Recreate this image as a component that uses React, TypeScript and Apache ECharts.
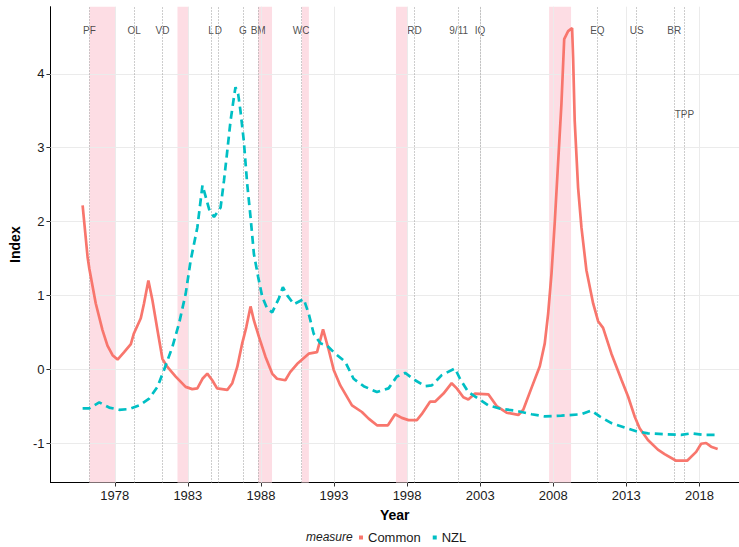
import React, { useEffect, useRef } from "react";
import * as echarts from "echarts";

// Common index (year, value)
const commonData: [number, number][] = [
  [1975.8, 2.22], [1976.14, 1.52], [1976.26, 1.36], [1976.7, 0.89], [1977.16, 0.53],
  [1977.5, 0.32], [1977.85, 0.19], [1978.19, 0.13], [1978.64, 0.23], [1979.1, 0.34],
  [1979.3, 0.48], [1979.78, 0.69], [1980.0, 0.89], [1980.3, 1.2], [1980.58, 0.93],
  [1980.92, 0.53], [1981.26, 0.14], [1981.6, 0.03], [1982.17, -0.1], [1982.85, -0.24],
  [1983.3, -0.27], [1983.65, -0.26], [1984.0, -0.13], [1984.33, -0.06], [1984.67, -0.15],
  [1985.0, -0.26], [1985.7, -0.28], [1986.04, -0.19], [1986.38, 0.03], [1986.72, 0.35],
  [1987.0, 0.57], [1987.29, 0.85], [1987.52, 0.66], [1987.86, 0.44], [1988.31, 0.17],
  [1988.77, -0.06], [1989.1, -0.13], [1989.67, -0.15], [1990.0, -0.04], [1990.47, 0.07],
  [1990.82, 0.13], [1991.27, 0.21], [1991.84, 0.23], [1992.25, 0.54], [1992.64, 0.26],
  [1992.98, -0.01], [1993.43, -0.22], [1994.23, -0.49], [1994.91, -0.58], [1995.37, -0.67],
  [1995.94, -0.76], [1996.69, -0.76], [1997.18, -0.61], [1997.64, -0.66], [1998.1, -0.69],
  [1998.67, -0.69], [1999.0, -0.61], [1999.57, -0.44], [1999.91, -0.44], [2000.49, -0.33],
  [2001.05, -0.19], [2001.4, -0.26], [2001.85, -0.38], [2002.19, -0.41], [2002.65, -0.33],
  [2003.56, -0.34], [2004.13, -0.5], [2004.81, -0.59], [2005.61, -0.62], [2005.95, -0.55],
  [2006.52, -0.25], [2007.08, 0.04], [2007.42, 0.35], [2007.65, 0.75], [2007.88, 1.29],
  [2008.11, 2.01], [2008.34, 2.82], [2008.56, 3.59], [2008.75, 4.47], [2009.02, 4.58],
  [2009.29, 4.62], [2009.36, 4.22], [2009.47, 3.36], [2009.7, 2.46], [2009.93, 1.92],
  [2010.27, 1.34], [2010.73, 0.89], [2011.07, 0.65], [2011.41, 0.56], [2011.98, 0.21],
  [2012.66, -0.14], [2013.12, -0.37], [2013.57, -0.64], [2013.91, -0.8], [2014.48, -0.96],
  [2015.16, -1.09], [2015.62, -1.15], [2016.41, -1.24], [2017.16, -1.24], [2017.78, -1.12],
  [2018.12, -1.01], [2018.46, -1.0], [2018.8, -1.05], [2019.25, -1.08],
];

// NZL index (year, value)
const nzlData: [number, number][] = [
  [1975.8, -0.53], [1976.25, -0.53], [1976.94, -0.45], [1977.62, -0.52], [1978.3, -0.55],
  [1978.99, -0.54], [1979.67, -0.49], [1980.35, -0.4], [1980.92, -0.24], [1981.37, -0.01],
  [1981.94, 0.3], [1982.4, 0.62], [1982.85, 1.02], [1983.19, 1.47], [1983.65, 1.92],
  [1984.0, 2.49], [1984.2, 2.35], [1984.45, 2.17], [1984.79, 2.06], [1985.24, 2.19],
  [1985.47, 2.55], [1985.7, 2.96], [1985.92, 3.36], [1986.15, 3.68], [1986.26, 3.82],
  [1986.44, 3.73], [1986.6, 3.5], [1986.83, 3.09], [1987.06, 2.51], [1987.29, 2.06],
  [1987.52, 1.56], [1987.81, 1.25], [1988.09, 0.98], [1988.43, 0.82], [1988.77, 0.77],
  [1989.23, 0.96], [1989.5, 1.11], [1989.8, 1.0], [1990.25, 0.88], [1990.93, 0.95],
  [1991.27, 0.75], [1991.61, 0.48], [1992.07, 0.35], [1992.52, 0.32], [1993.09, 0.21],
  [1993.77, 0.1], [1994.34, -0.13], [1995.03, -0.23], [1995.94, -0.31], [1996.73, -0.26],
  [1997.3, -0.1], [1997.87, -0.05], [1998.55, -0.15], [1999.23, -0.23], [1999.69, -0.22],
  [2000.37, -0.08], [2001.28, 0.01], [2001.62, -0.13], [2002.19, -0.31], [2002.88, -0.4],
  [2003.56, -0.49], [2004.47, -0.54], [2005.38, -0.56], [2006.52, -0.61], [2007.42, -0.64],
  [2008.56, -0.63], [2009.93, -0.61], [2010.61, -0.56], [2011.18, -0.64], [2011.98, -0.73],
  [2012.89, -0.79], [2013.68, -0.84], [2014.48, -0.87], [2015.62, -0.88], [2016.75, -0.89],
  [2017.44, -0.87], [2018.34, -0.89], [2019.25, -0.89],
];

const eventNames = ["PF", "OL", "VD", "L", "D", "G", "BM", "WC", "RD", "9/11", "IQ", "EQ", "US", "BR", "TPP"];
const eventYears = [1976.27, 1979.32, 1981.27, 1984.58, 1985.08, 1986.76, 1987.81, 1990.75, 1998.51, 2001.53, 2002.99, 2011.02, 2013.71, 2016.28, 2016.98];
const eventLabelLevels = [4.59, 4.59, 4.59, 4.59, 4.59, 4.59, 4.59, 4.59, 4.59, 4.59, 4.59, 4.59, 4.59, 4.59, 3.45];

const recessionStarts = [1976.27, 1982.29, 1987.81, 1990.8, 1997.24, 2007.72];
const recessionEnds = [1978.04, 1983.04, 1988.76, 1991.28, 1998.02, 2009.22];

const xTicks = [1978, 1983, 1988, 1993, 1998, 2003, 2008, 2013, 2018];
const yTicks = [-1, 0, 1, 2, 3, 4];

const FONT = "'Liberation Sans', Arial, sans-serif";

export default function App() {
  const ref = useRef<HTMLDivElement>(null);
  useEffect(() => {
    if (!ref.current) return;
    const chart = echarts.init(ref.current, null, { renderer: "svg" });
    const option: any = {
      animation: false,
      backgroundColor: "#ffffff",
      textStyle: { fontFamily: FONT },
      grid: { left: 47, right: 0, top: 6.7, bottom: 64.5, containLabel: false },
      xAxis: {
        type: "value",
        min: 1973.6,
        max: 2020.71,
        name: "Year",
        nameLocation: "middle",
        nameGap: 25,
        nameTextStyle: { fontSize: 14, fontWeight: "bold", color: "#000", fontFamily: FONT },
        axisLine: { show: true, onZero: false, lineStyle: { color: "#000", width: 1 } },
        axisTick: { show: true, length: 4, customValues: xTicks, lineStyle: { color: "#333" } },
        axisLabel: { customValues: xTicks, margin: 6, fontSize: 13, color: "#1a1a1a", fontFamily: FONT, formatter: (v: number) => String(Math.round(v)) },
        splitLine: { show: false },
      },
      yAxis: {
        type: "value",
        min: -1.535,
        max: 4.91,
        name: "Index",
        nameLocation: "middle",
        nameGap: 23,
        nameRotate: 90,
        nameTextStyle: { fontSize: 14, fontWeight: "bold", color: "#000", fontFamily: FONT },
        axisLine: { show: true, onZero: false, lineStyle: { color: "#000", width: 1 } },
        axisTick: { show: true, length: 4, customValues: yTicks, lineStyle: { color: "#333" } },
        axisLabel: { customValues: yTicks, margin: 6, fontSize: 13, color: "#1a1a1a", fontFamily: FONT, formatter: (v: number) => String(Math.round(v)) },
        splitLine: { show: false },
      },
      legend: {
        data: [
          { name: "Common", icon: "rect", itemStyle: { color: "#F8766D" } },
          { name: "NZL", icon: "rect", itemStyle: { color: "#00BFC4" } },
        ],
        left: 359,
        top: 531,
        padding: 0,
        itemWidth: 4,
        itemHeight: 4,
        itemGap: 12,
        textStyle: { fontSize: 13, color: "#1a1a1a", fontFamily: FONT },
      },
      graphic: [
        {
          type: "text",
          left: 306,
          top: 531,
          style: { text: "measure", fontSize: 12, fontStyle: "italic", fill: "#1a1a1a", fontFamily: FONT },
        },
      ],
      series: [
        {
          name: "grid",
          type: "line",
          data: [],
          silent: true,
          z: 1,
          markLine: {
            silent: true,
            symbol: ["none", "none"],
            label: { show: false },
            lineStyle: { color: "#ebebeb", width: 1, type: "solid" },
            data: [
              ...xTicks.map((t) => ({ xAxis: t })),
              ...yTicks.map((t) => ({ yAxis: t })),
            ],
          },
        },
        {
          name: "recessions",
          type: "line",
          data: [],
          silent: true,
          z: 2,
          markArea: {
            silent: true,
            itemStyle: { color: "#FDDDE4" },
            data: recessionStarts.map((s, i) => [{ xAxis: s }, { xAxis: recessionEnds[i] }]),
          },
        },
        {
          name: "events",
          type: "line",
          data: [],
          silent: true,
          z: 3,
          markLine: {
            silent: true,
            symbol: ["none", "none"],
            label: { show: false },
            lineStyle: { color: "#9a9a9a", width: 1, type: [1, 2] },
            data: eventYears.map((y) => ({ xAxis: y })),
          },
        },
        {
          name: "eventLabels",
          type: "scatter",
          symbolSize: 0,
          silent: true,
          z: 4,
          data: eventNames.map((n, i) => ({ name: n, value: [eventYears[i], eventLabelLevels[i]] })),
          label: { show: true, position: "inside", formatter: "{b}", fontSize: 10, color: "#222", fontFamily: FONT },
        },
        {
          name: "Common",
          type: "line",
          data: commonData,
          showSymbol: false,
          symbol: "none",
          z: 5,
          lineStyle: { color: "#F8766D", width: 2.7 },
          itemStyle: { color: "#F8766D" },
        },
        {
          name: "NZL",
          type: "line",
          data: nzlData,
          showSymbol: false,
          symbol: "none",
          z: 6,
          lineStyle: { color: "#00BFC4", width: 2.7, type: [8, 5] },
          itemStyle: { color: "#00BFC4" },
        },
      ],
    };
    chart.setOption(option);
    return () => chart.dispose();
  }, []);
  return (
    <div style={{ position: "absolute", left: 0, top: 0, width: 739, height: 547, overflow: "hidden", background: "#fff" }}>
      <div ref={ref} style={{ width: 739, height: 547 }} />
    </div>
  );
}
